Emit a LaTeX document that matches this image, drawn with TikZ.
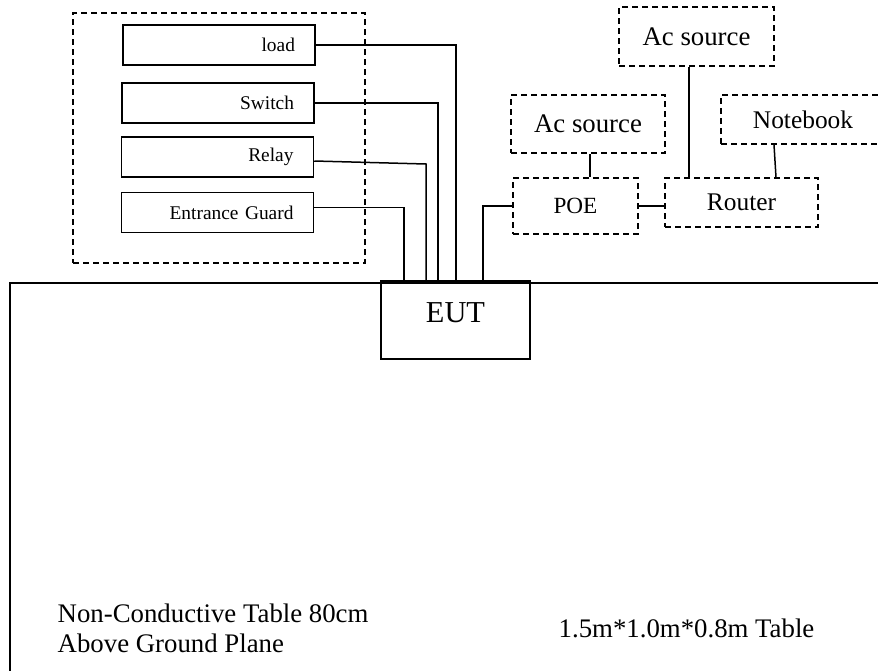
\documentclass[tikz,border=0pt]{standalone}
\usepackage{fontspec}
\setmainfont{Liberation Serif}
\usepackage{tikz}

\begin{document}
\begin{tikzpicture}[x=0.5pt, y=-0.5pt, line width=0.75pt,
  unit/.style={draw, minimum height=20pt, text width=76pt, inner xsep=10pt, align=right, font=\fontsize{9.7}{11}\selectfont},
  dbox/.style={draw, dash pattern=on 3pt off 2pt, inner sep=0pt},
  big/.style={font=\fontsize{13.4}{15}\selectfont}]
\useasboundingbox (0,0) rectangle (878,670);
\clip (0,0) rectangle (878,670);
% table
\draw (10,690) -- (10,283) -- (890,283);
% peripherals
\node[dbox, minimum width=146pt, minimum height=125pt] (grp) at (219,138) {};
\node[unit] (load) at (219,45) {load};
\node[unit] (switch) at (218,103) {Switch};
\node[unit] (relay) at (217.5,157) {Relay};
\node[unit] (guard) at (217.5,212.5) {Entrance Guard};
% EUT
\node[draw, minimum width=74.5pt, minimum height=38.5pt, text depth=8pt, font=\fontsize{15.2}{17}\selectfont] (eut) at (455.5,320.5) {EUT};
\draw[line width=1.4pt] (eut.north west) -- (eut.north east);
\coordinate (e1) at (456,283);
\coordinate (e2) at (438,283);
\coordinate (e3) at (426,283);
\coordinate (e4) at (404,283);
\coordinate (e5) at (483,283);
\draw (load.east) -| (e1);
\draw (switch.east) -| (e2);
\draw ([yshift=-2pt]relay.east) -- (426,164) -- (e3);
\draw ([yshift=2.5pt]guard.east) -| (e4);
% network side
\node[dbox, minimum width=62.5pt, minimum height=28pt, font=\fontsize{11.6}{13}\selectfont] (poe) at (575.5,206) {POE};
\node[dbox, big, minimum width=77pt, minimum height=29pt] (acl) at (588,124) {Ac source};
\node[dbox, big, minimum width=77.5pt, minimum height=29.5pt] (act) at (696.5,36.5) {Ac source};
\node[dbox, minimum width=76.5pt, minimum height=24.5pt, font=\fontsize{12.7}{14}\selectfont] (router) at (741.5,202.5) {Router};
\node[dbox, minimum width=82pt, minimum height=24.5pt, font=\fontsize{12.7}{14}\selectfont] (nb) at (803,119.5) {Notebook};
\draw (poe.west) -| (e5);
\draw ([xshift=1pt]acl.south) -- ([xshift=1pt]acl.south |- poe.north);
\draw (poe.east) -- (poe.east -| router.west);
\draw ([xshift=-3.75pt]act.south) -- ([xshift=-3.75pt]act.south |- router.north);
\draw ([xshift=-14.5pt]nb.south) -- ([xshift=17.25pt]router.north);
% labels
\node[big, align=left, anchor=north west, inner sep=0pt] (note) at (57,603.5) {Non-Conductive Table 80cm\\Above Ground Plane};
\node[big, anchor=base, inner sep=0pt] (size) at (686.5,637) {1.5m*1.0m*0.8m Table};
\end{tikzpicture}
\end{document}
